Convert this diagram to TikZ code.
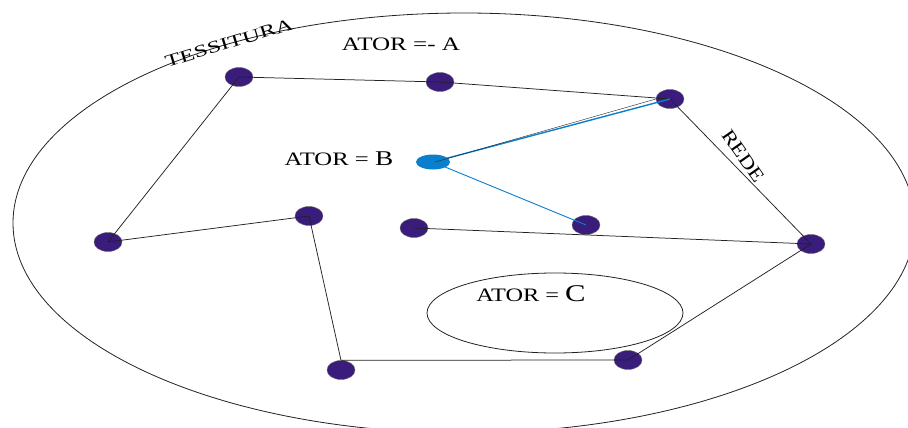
\documentclass[tikz,border=0pt]{standalone}
\usepackage{fontspec}
\setmainfont{Liberation Serif}
\usetikzlibrary{shapes.geometric}
\definecolor{actorfill}{HTML}{3A1C7C}
\definecolor{actorblue}{HTML}{0A80CC}
\definecolor{inkline}{HTML}{222222}
\tikzset{
  actor/.style={ellipse, draw=gray!80!black, line width=0.4pt, fill=actorfill,
    minimum width=28pt, minimum height=19pt, inner sep=0pt},
  actorb/.style={ellipse, fill=actorblue, minimum width=34pt, minimum height=15pt, inner sep=0pt},
  edge/.style={draw=inkline, line width=0.75pt},
  bluelink/.style={draw=actorblue, line width=0.9pt},
  boundary/.style={draw=inkline, line width=0.8pt},
  label/.style={inner sep=0pt, anchor=base},
}
\begin{document}
\begin{tikzpicture}[x=1pt, y=-1pt]
\useasboundingbox (0,0) rectangle (908,428);
\begin{scope}
  \clip (0,0) rectangle (908,428);
  % outer fabric ("tessitura")
  \draw[boundary] (464,223) ellipse [x radius=451pt, y radius=210pt];
\end{scope}
% actor C region
\draw[boundary] (555,313) ellipse [x radius=128pt, y radius=40pt];

% network actors
\node[actor] (n1) at (239,77) {};
\node[actor] (n2) at (440,82) {};
\node[actor] (n3) at (670,99) {};
\node[actor] (n4) at (108,242) {};
\node[actor] (n5) at (309,216) {};
\node[actor] (n6) at (414,228) {};
\node[actor] (n7) at (586,225) {};
\node[actor] (n8) at (811,244) {};
\node[actor] (n9) at (341,370) {};
\node[actor] (n10) at (628,360) {};
\node[actorb] (nB) at (433,162) {};

% network links
\draw[edge] (n1.center) -- (n2.center);
\draw[edge] (n2.center) -- (n3.center);
\draw[edge] (n3.center) -- (n8.center);
\draw[edge] (n1.center) -- (n4.center);
\draw[edge] (n4.center) -- (n5.center);
\draw[edge] (n5.center) -- (n9.north);
\draw[edge] (n9.north) -- (n10.center);
\draw[edge] (n10.center) -- (n8.center);
\draw[edge] (n6.center) -- (n8.center);

% links of actor B
\draw[bluelink, line width=1.4pt] (nB.center) -- (n3.center);
\draw[edge, line width=0.4pt] ([yshift=-0.6pt]nB.center) -- (n3.west);
\draw[bluelink] (nB.center) -- (n7.center);

% labels
\node[label, font=\fontsize{19}{19}\selectfont] at (401,51) {\scalebox{1.32}[1]{ATOR =- A}};
\node[label, font=\fontsize{19}{19}\selectfont] at (339,165) {\scalebox{1.3}[1]{ATOR = \fontsize{21}{21}\selectfont B}};
\node[label, font=\fontsize{19}{19}\selectfont] at (531,301) {\scalebox{1.28}[1]{ATOR = \fontsize{24}{24}\selectfont C}};
\node[inner sep=0pt, rotate=17, font=\fontsize{17}{17}\selectfont] at (229,43) {\scalebox{1.45}[1]{TESSITURA}};
\node[inner sep=0pt, rotate=-55, font=\fontsize{19}{19}\selectfont] at (743,156) {\scalebox{1.2}[1]{REDE}};
\end{tikzpicture}
\end{document}
